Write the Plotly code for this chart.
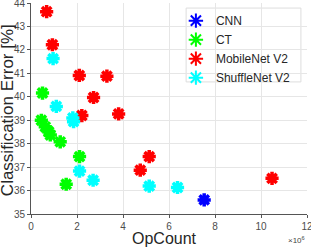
import plotly.graph_objects as go

cnn_x = [7.53]
cnn_y = [35.6]

ct_x = [0.5, 0.45, 0.62, 0.77, 0.84, 1.27, 2.11, 1.53]
ct_y = [40.16, 39.0, 38.72, 38.51, 38.37, 38.08, 37.45, 36.27]

mb_x = [0.68, 0.93, 2.1, 3.3, 2.72, 2.21, 3.81, 4.75, 5.14, 10.48]
mb_y = [43.63, 42.22, 40.91, 40.88, 39.97, 39.2, 39.27, 36.87, 37.45, 36.52]

sh_x = [0.96, 1.1, 1.82, 1.85, 2.11, 2.7, 5.14, 6.37]
sh_y = [41.63, 39.59, 39.1, 38.94, 36.83, 36.44, 36.19, 36.13]

x_ticks = [0, 2, 4, 6, 8, 10, 12]
y_ticks = [35, 36, 37, 38, 39, 40, 41, 42, 43, 44]

series = [("CNN", cnn_x, cnn_y, "#0000ff"),
          ("CT", ct_x, ct_y, "#00ff00"),
          ("MobileNet V2", mb_x, mb_y, "#ff0000"),
          ("ShuffleNet V2", sh_x, sh_y, "#00ffff")]

fig = go.Figure()
for name, xs, ys, c in series:
    fig.add_trace(go.Scatter(x=xs, y=ys, mode="markers", name=name,
                             marker=dict(symbol="asterisk-open", size=11,
                                         color=c, line=dict(color=c, width=3.5))))

axis_common = dict(showgrid=True, gridcolor="#e6e6e6", gridwidth=1,
                   showline=True, linecolor="#555555", linewidth=1,
                   ticks="outside", ticklen=3, tickcolor="#555555",
                   tickfont=dict(family="Liberation Sans, Arial", size=10, color="#4d4d4d"),
                   ticklabeloverflow="allow",
                   zeroline=False, mirror=False)

fig.update_layout(
    width=311, height=249,
    margin=dict(l=31, r=4, t=3, b=35, autoexpand=False),
    paper_bgcolor="white", plot_bgcolor="white",
    font=dict(family="Liberation Sans, Arial", color="#262626"),
    xaxis=dict(range=[0, 12], tickvals=x_ticks, **axis_common),
    yaxis=dict(range=[35, 44.001], tickvals=y_ticks, **axis_common),
    legend=dict(x=0.525, y=0.985, xanchor="left", yanchor="top",
                bgcolor="rgba(0,0,0,0)", borderwidth=0,
                font=dict(size=12, color="#262626"), itemsizing="constant",
                tracegroupgap=0),
    showlegend=True,
    shapes=[dict(type="rect", xref="paper", yref="paper",
                 x0=0.562, x1=0.978, y0=0.626, y1=0.976,
                 line=dict(color="#dddddd", width=1), fillcolor="white", layer="below")],
    annotations=[
        dict(text="×10<sup>6</sup>", x=1.0, y=-0.09, xref="paper", yref="paper",
             xanchor="right", yanchor="top", showarrow=False,
             font=dict(size=8, color="#444444")),
        dict(text="OpCount", x=0.485, y=-0.114, xref="paper", yref="paper",
             xanchor="center", yanchor="middle", showarrow=False,
             font=dict(size=16, color="#262626")),
        dict(text="Classification Error [%]", x=-0.085, y=0.49, xref="paper", yref="paper",
             xanchor="center", yanchor="middle", showarrow=False, textangle=-90,
             font=dict(size=17, color="#262626")),
    ],
)

fig.write_html("out.html", config={"displayModeBar": False},
               post_script="document.body.style.margin='0';document.body.style.overflow='hidden';")
